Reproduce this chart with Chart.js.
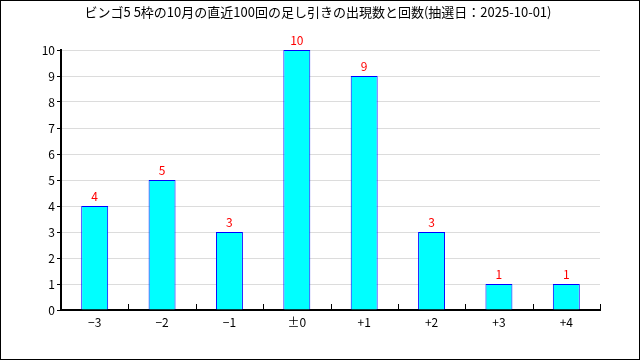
<!DOCTYPE html>
<html>
<head>
<meta charset="utf-8">
<script src="https://cdn.jsdelivr.net/npm/chart.js@4"></script>
<style>
  html, body { margin: 0; padding: 0; background: #fff; }
  #wrap { width: 640px; height: 360px; }
</style>
</head>
<body>
<div id="wrap"><canvas id="chart" width="640" height="360"></canvas></div>
<script>
const titleText = "ビンゴ5 5枠の10月の直近100回の足し引きの出現数と回数(抽選日：2025-10-01)";
const categories = ["−3", "−2", "−1", "±0", "+1", "+2", "+3", "+4"];
const counts = [4, 5, 3, 10, 9, 3, 1, 1];
const yTicks = [0, 1, 2, 3, 4, 5, 6, 7, 8, 9, 10];

const FONT = "'Noto Sans CJK JP', 'DejaVu Sans', sans-serif";

// title, outer frame, value labels and inward x tick marks
const extras = {
  id: "extras",
  afterDatasetsDraw(chart) {
    const ctx = chart.ctx;
    const meta = chart.getDatasetMeta(0);
    ctx.save();
    ctx.fillStyle = "#ff0000";
    ctx.font = "12px " + FONT;
    ctx.textAlign = "center";
    ctx.textBaseline = "middle";
    meta.data.forEach((bar, i) => {
      ctx.fillText(String(counts[i]), bar.x, bar.y - 10);
    });
    ctx.restore();
  },
  afterDraw(chart) {
    const ctx = chart.ctx;
    const area = chart.chartArea;
    const x = chart.scales.x;
    ctx.save();
    // inward ticks on category boundaries
    ctx.strokeStyle = "#000";
    ctx.lineWidth = 1;
    const step = x.getPixelForValue(1) - x.getPixelForValue(0);
    for (let i = 0; i < categories.length; i++) {
      const px = Math.round(x.getPixelForValue(i) + step / 2) + 0.5;
      ctx.beginPath();
      ctx.moveTo(px, area.bottom);
      ctx.lineTo(px, area.bottom - 6);
      ctx.stroke();
    }
    // title
    ctx.fillStyle = "#000";
    ctx.font = "13px " + FONT;
    ctx.textAlign = "center";
    ctx.textBaseline = "middle";
    ctx.fillText(titleText, 318, 12);
    // frame
    ctx.lineWidth = 1;
    ctx.strokeRect(0.5, 0.5, 639, 359);
    ctx.restore();
  }
};

new Chart(document.getElementById("chart"), {
  type: "bar",
  data: {
    labels: categories,
    datasets: [{
      data: counts,
      backgroundColor: "#00ffff",
      borderColor: "#0000ff",
      borderWidth: 1,
      barPercentage: 0.4,
      categoryPercentage: 1.0
    }]
  },
  options: {
    responsive: false,
    animation: false,
    layout: { padding: { top: 50, right: 40, bottom: 0, left: 0 } },
    plugins: {
      legend: { display: false },
      title: { display: false },
      tooltip: { enabled: false }
    },
    scales: {
      x: {
        afterFit(scale) { scale.height = 50; },
        grid: { display: false, drawTicks: false },
        border: { display: true, color: "#000", width: 2 },
        ticks: { color: "#000", font: { size: 12, family: FONT }, padding: 5 }
      },
      y: {
        min: 0,
        max: 10,
        afterFit(scale) { scale.width = 61; },
        afterBuildTicks(scale) { scale.ticks = yTicks.map(v => ({ value: v })); },
        grid: { color: "#dcdcdc", tickColor: "#000", tickLength: 4, lineWidth: 1 },
        border: { display: true, color: "#000", width: 2 },
        ticks: { color: "#000", font: { size: 12, family: FONT }, padding: 2 }
      }
    }
  },
  plugins: [extras]
});
</script>
</body>
</html>
